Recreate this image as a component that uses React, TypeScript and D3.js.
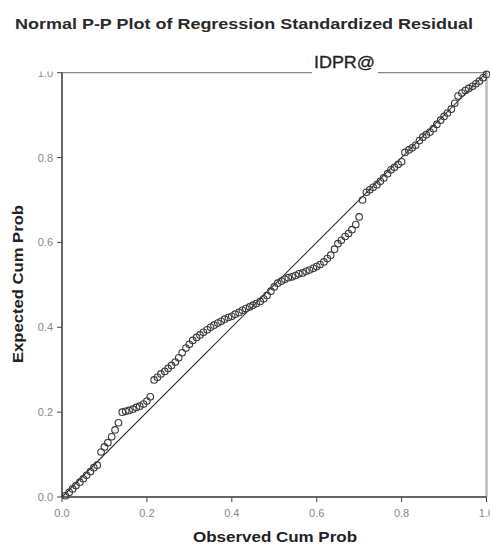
import React from "react";
import * as d3 from "d3";

const title = "Normal P-P Plot of Regression Standardized Residual";
const subtitle = "IDPR@";
const xTitle = "Observed Cum Prob";
const yTitle = "Expected Cum Prob";
const tickValues = [0, 0.2, 0.4, 0.6, 0.8, 1.0];
const tickLabels = ["0.0", "0.2", "0.4", "0.6", "0.8", "1.0"];

const observed = [
  0.008, 0.017, 0.025, 0.033, 0.042, 0.05, 0.058, 0.067, 0.075, 0.083,
  0.092, 0.1, 0.108, 0.117, 0.125, 0.133, 0.142, 0.15, 0.158, 0.167,
  0.175, 0.183, 0.192, 0.2, 0.208, 0.217, 0.225, 0.233, 0.242, 0.25,
  0.258, 0.267, 0.275, 0.283, 0.292, 0.3, 0.308, 0.317, 0.325, 0.333,
  0.342, 0.35, 0.358, 0.367, 0.375, 0.383, 0.392, 0.4, 0.408, 0.417,
  0.425, 0.433, 0.442, 0.45, 0.458, 0.467, 0.475, 0.483, 0.492, 0.5,
  0.508, 0.517, 0.525, 0.533, 0.542, 0.55, 0.558, 0.567, 0.575, 0.583,
  0.592, 0.6, 0.608, 0.617, 0.625, 0.633, 0.642, 0.65, 0.658, 0.667,
  0.675, 0.683, 0.692, 0.7, 0.708, 0.717, 0.725, 0.733, 0.742, 0.75,
  0.758, 0.767, 0.775, 0.783, 0.792, 0.8, 0.808, 0.817, 0.825, 0.833,
  0.842, 0.85, 0.858, 0.867, 0.875, 0.883, 0.892, 0.9, 0.908, 0.917,
  0.925, 0.933, 0.942, 0.95, 0.958, 0.967, 0.975, 0.983, 0.992, 1.0,
];

const expected = [
  0.003, 0.011, 0.019, 0.027, 0.035, 0.043, 0.051, 0.06, 0.069, 0.075,
  0.106, 0.118, 0.128, 0.142, 0.158, 0.175, 0.2, 0.202, 0.204, 0.207,
  0.211, 0.214, 0.219, 0.226, 0.236, 0.276, 0.282, 0.29, 0.296, 0.303,
  0.31, 0.318, 0.328, 0.34, 0.351, 0.36, 0.369, 0.376, 0.382, 0.388,
  0.394, 0.4, 0.405, 0.41, 0.414, 0.419, 0.423, 0.426, 0.431, 0.435,
  0.44, 0.444, 0.448, 0.452, 0.456, 0.461, 0.467, 0.475, 0.485, 0.495,
  0.504, 0.509, 0.513, 0.517, 0.519, 0.522, 0.526, 0.528, 0.532, 0.535,
  0.539, 0.543, 0.548, 0.554, 0.562, 0.57, 0.584, 0.597, 0.605, 0.614,
  0.621, 0.63, 0.642, 0.66, 0.7, 0.718, 0.724, 0.73, 0.736, 0.744,
  0.752, 0.762, 0.771, 0.777, 0.784, 0.79, 0.812, 0.818, 0.823, 0.829,
  0.84, 0.848, 0.854, 0.86, 0.868, 0.878, 0.888, 0.897, 0.905, 0.914,
  0.928, 0.945, 0.952, 0.958, 0.963, 0.968, 0.974, 0.98, 0.988, 0.996,
];

const FONT = "'Liberation Sans', Arial, sans-serif";

export default function App() {
  const x = d3.scaleLinear().domain([0, 1]).range([62, 486.5]);
  const y = d3.scaleLinear().domain([0, 1]).range([497, 72.7]);
  const points = observed.map((o, i) => ({ o, e: expected[i] }));

  return (
    <svg
      width={490}
      height={544}
      style={{ position: "absolute", left: 0, top: 0, background: "#fff" }}
    >
      <defs>
        <clipPath id="ytopclip">
          <rect x={0} y={71.5} width={62} height={500} />
        </clipPath>
      </defs>
      <rect x={0} y={0} width={490} height={544} fill="#fff" />
      <text
        x={15}
        y={29}
        fontFamily={FONT}
        fontSize={15}
        fontWeight="bold"
        fill="#2a2a2a"
        textLength={458}
        lengthAdjust="spacingAndGlyphs"
      >
        {title}
      </text>

      <line x1={x(0)} x2={x(1)} y1={y(1)} y2={y(1)} stroke="#888" strokeWidth={1.2} />
      <line x1={x(1)} x2={x(1)} y1={y(1)} y2={y(0)} stroke="#bbb" strokeWidth={2.5} />

      <rect x={312} y={50} width={66} height={24} fill="#fff" />
      <text
        x={314}
        y={68}
        fontFamily={FONT}
        fontSize={16}
        fill="#222"
        stroke="#222"
        strokeWidth={0.3}
        textLength={61}
        lengthAdjust="spacingAndGlyphs"
      >
        {subtitle}
      </text>

      <line x1={x(0)} y1={y(0)} x2={x(1)} y2={y(1)} stroke="#333" strokeWidth={1.1} />

      <g fill="none" stroke="#3a3a3a" strokeWidth={1.1}>
        {points.map((p, i) => (
          <circle key={i} cx={x(p.o)} cy={y(p.e)} r={3.3} />
        ))}
      </g>

      <line x1={x(0)} x2={x(0)} y1={y(1)} y2={y(0)} stroke="#333" strokeWidth={1.5} />
      <line x1={x(0)} x2={x(1)} y1={y(0)} y2={y(0)} stroke="#333" strokeWidth={1.5} />

      {tickValues.map((t, i) => (
        <g key={"y" + i}>
          <line x1={x(0) - 5} x2={x(0)} y1={y(t)} y2={y(t)} stroke="#444" strokeWidth={1} />
          <text
            x={53}
            y={y(t) + 4}
            textAnchor="end"
            fontFamily={FONT}
            fontSize={11}
            fill="#888"
            clipPath={i === 5 ? "url(#ytopclip)" : undefined}
          >
            {tickLabels[i]}
          </text>
        </g>
      ))}

      {tickValues.map((t, i) => (
        <g key={"x" + i}>
          <line x1={x(t)} x2={x(t)} y1={y(0)} y2={y(0) + 5} stroke="#444" strokeWidth={1} />
          <text
            x={x(t)}
            y={517}
            textAnchor="middle"
            fontFamily={FONT}
            fontSize={11}
            fill="#888"
          >
            {tickLabels[i]}
          </text>
        </g>
      ))}

      <text
        x={275}
        y={542}
        textAnchor="middle"
        fontFamily={FONT}
        fontSize={14}
        fontWeight="bold"
        fill="#222"
        textLength={164}
        lengthAdjust="spacingAndGlyphs"
      >
        {xTitle}
      </text>
      <text
        transform={`translate(23, 284) rotate(-90)`}
        textAnchor="middle"
        fontFamily={FONT}
        fontSize={14}
        fontWeight="bold"
        fill="#222"
        textLength={158}
        lengthAdjust="spacingAndGlyphs"
      >
        {yTitle}
      </text>
    </svg>
  );
}
